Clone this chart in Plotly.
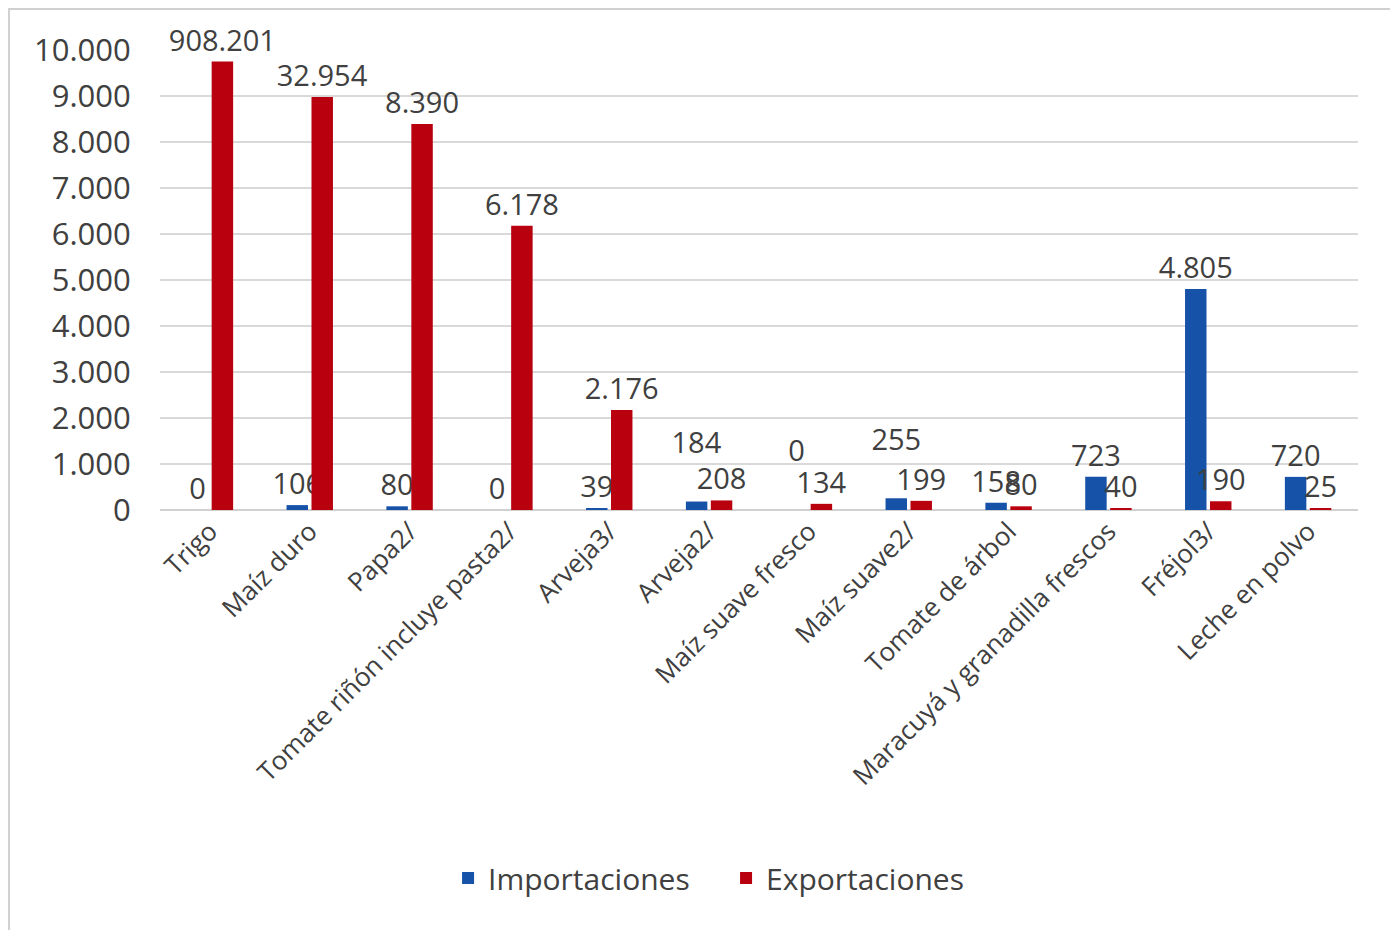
import plotly.graph_objects as go

categories = ["Trigo", "Maíz duro", "Papa2/", "Tomate riñón incluye pasta2/", "Arveja3/",
              "Arveja2/", "Maíz suave fresco", "Maíz suave2/", "Tomate de árbol",
              "Maracuyá y granadilla frescos", "Fréjol3/", "Leche en polvo"]

import_values = [0, 106, 80, 0, 39, 184, 0, 255, 158, 723, 4805, 720]
import_labels = ["0", "106", "80", "0", "39", "184", "0", "255", "158", "723", "4.805", "720"]

export_values = [9750, 8980, 8390, 6178, 2176, 208, 134, 199, 80, 40, 190, 25]
export_labels = ["908.201", "32.954", "8.390", "6.178", "2.176", "208", "134", "199", "80", "40", "190", "25"]

y_ticks = [0, 1000, 2000, 3000, 4000, 5000, 6000, 7000, 8000, 9000, 10000]

FONT = "Open Sans"
TXT = "#404040"

# In the reference a few import labels sit one line higher, above the export label
raised = {"Arveja2/", "Maíz suave fresco", "Maíz suave2/"}
import_text = [lbl + "<br> " if cat in raised else lbl
               for cat, lbl in zip(categories, import_labels)]

fig = go.Figure()
fig.add_trace(go.Bar(
    name="Importaciones", x=categories, y=import_values,
    marker=dict(color="#1552A8", line=dict(width=0)),
    text=import_text, textposition="outside", textangle=0, constraintext="none",
    cliponaxis=False, textfont=dict(family=FONT, size=29, color=TXT),
))
fig.add_trace(go.Bar(
    name="Exportaciones", x=categories, y=export_values,
    marker=dict(color="#B8000F", line=dict(width=0)),
    text=export_labels, textposition="outside", textangle=0, constraintext="none",
    cliponaxis=False, textfont=dict(family=FONT, size=29, color=TXT),
))

fig.update_layout(
    width=1390, height=922,
    margin=dict(l=152, r=40, t=42, b=420),
    paper_bgcolor="white", plot_bgcolor="white",
    separators=",.",
    barmode="group", bargap=0.5, bargroupgap=0.14,
    font=dict(family=FONT, color=TXT),
    showlegend=True,
    legend=dict(orientation="h", x=0.4725, xanchor="center", y=-0.80, yanchor="middle",
                font=dict(family=FONT, size=30, color=TXT), itemsizing="constant",
                entrywidth=233, entrywidthmode="pixels"),
    shapes=[dict(type="rect", xref="paper", yref="paper", x0=-0.126, x1=1.030,
                 y0=-1.0, y1=1.089, line=dict(color="#d0d0d0", width=2), layer="below")],
)
fig.update_xaxes(tickangle=-45, tickfont=dict(family=FONT, size=26, color=TXT),
                 showgrid=False, showline=False, ticks="")
fig.update_yaxes(range=[0, 10000], tickvals=y_ticks, tickformat=",d",
                 showgrid=True, gridcolor="#d9d9d9", gridwidth=2,
                 zeroline=True, zerolinecolor="#d0d0d0", zerolinewidth=2,
                 showline=False, ticks="outside", ticklen=22, tickcolor="rgba(0,0,0,0)",
                 tickfont=dict(family=FONT, size=31, color=TXT))

fig.write_html("out.html")
